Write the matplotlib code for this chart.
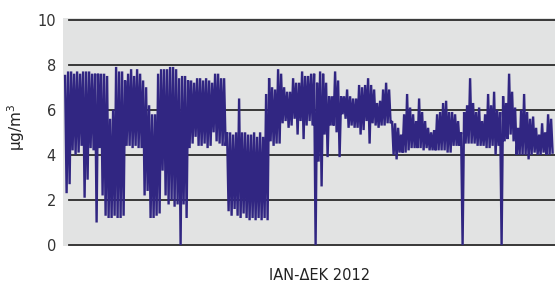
import numpy as np
import pandas as pd
import matplotlib
matplotlib.use("Agg")
import matplotlib.pyplot as plt

# upper / lower envelope of the hourly series, one pair per short time slice (Jan -> Dec 2012)
highs = [7.5, 7.7, 7.7, 7.6, 7.7, 7.6, 7.7, 7.7, 7.7, 7.6,
         7.6, 7.6, 7.6, 7.6, 7.5, 5.6, 6.0, 7.9, 7.7, 7.7,
         7.3, 7.6, 7.8, 7.5, 7.8, 7.6, 7.3, 7.0, 6.2, 5.8,
         5.8, 7.6, 7.8, 7.8, 7.8, 7.9, 7.9, 7.8, 7.4, 7.5,
         7.5, 7.3, 7.3, 7.2, 7.4, 7.4, 7.3, 7.4, 7.3, 7.2,
         7.6, 7.6, 7.4, 7.4, 5.0, 5.0, 4.9, 5.0, 6.5, 5.0,
         5.0, 4.9, 4.9, 5.0, 4.8, 5.0, 4.8, 6.7, 7.4, 7.0,
         6.9, 7.8, 7.6, 7.0, 6.8, 6.8, 7.4, 7.2, 7.2, 7.7,
         7.5, 7.5, 7.6, 7.6, 7.2, 7.7, 7.6, 7.2, 6.6, 6.6,
         7.7, 7.3, 6.6, 6.6, 6.9, 6.6, 6.5, 6.5, 7.1, 7.0,
         7.1, 7.4, 7.1, 6.9, 6.3, 6.4, 6.9, 7.2, 6.9, 5.5,
         5.4, 5.2, 4.9, 5.8, 6.7, 6.1, 5.8, 5.5, 6.5, 5.9,
         5.5, 5.2, 5.0, 5.1, 5.8, 5.9, 6.3, 6.4, 5.9, 5.9,
         5.8, 5.5, 5.0, 5.9, 6.2, 7.4, 6.3, 5.9, 6.1, 5.5,
         5.8, 6.7, 6.2, 6.8, 6.0, 5.9, 6.6, 6.3, 7.6, 6.8,
         6.1, 5.2, 6.0, 6.7, 5.9, 5.6, 5.7, 5.2, 4.9, 5.4,
         5.0, 5.8, 5.6]
lows = [2.3, 2.7, 4.2, 4.0, 4.1, 4.4, 2.1, 2.9, 4.3, 4.2,
        1.0, 4.3, 2.2, 1.3, 1.2, 1.2, 1.3, 1.2, 1.2, 1.3,
        4.4, 4.4, 4.3, 4.4, 4.3, 4.3, 2.2, 2.4, 1.2, 1.2,
        1.3, 1.4, 3.3, 2.2, 1.8, 2.0, 1.7, 1.8, 0.0, 1.8,
        1.2, 4.3, 4.5, 4.8, 4.4, 4.4, 4.5, 4.3, 4.4, 5.0,
        4.6, 4.5, 4.4, 4.4, 1.5, 1.3, 1.6, 1.3, 1.2, 1.4,
        1.2, 1.1, 1.2, 1.1, 1.2, 1.1, 1.2, 1.1, 4.6, 4.4,
        4.5, 4.5, 5.4, 5.5, 5.2, 5.3, 5.6, 4.9, 5.5, 4.7,
        5.3, 5.5, 5.3, 0.0, 3.7, 2.6, 4.9, 3.9, 5.3, 5.3,
        5.0, 3.9, 5.8, 5.6, 5.2, 5.3, 5.2, 5.2, 4.9, 5.1,
        5.5, 4.5, 5.4, 5.3, 5.2, 5.3, 5.3, 5.4, 5.4, 4.0,
        3.8, 4.1, 4.1, 4.1, 4.2, 4.3, 4.3, 4.3, 4.3, 4.2,
        4.3, 4.2, 4.2, 4.2, 4.2, 4.2, 4.2, 4.1, 4.1, 4.4,
        4.4, 4.4, 0.0, 4.5, 4.5, 4.5, 4.5, 4.4, 4.4, 4.4,
        4.3, 4.3, 4.4, 4.0, 4.4, 0.0, 4.6, 4.7, 4.9, 4.6,
        4.0, 4.0, 4.0, 4.0, 3.8, 4.0, 4.1, 4.0, 4.0, 4.1,
        4.0, 4.0, 4.1]

yticks = [0, 2, 4, 6, 8, 10]
xlabel = "ΙΑΝ-ΔΕΚ 2012"
ylabel = "μg/m$^3$"

# zigzag between the envelopes
vals = np.ravel(np.column_stack([highs, lows]))
times = pd.date_range("2012-01-01", "2012-12-31 23:00", periods=len(vals))

plt.rcParams['font.family'] = ['Liberation Sans Narrow', 'DejaVu Sans']

fig = plt.figure(figsize=(5.55, 2.83), dpi=100)
ax = fig.add_axes([63/555, 1 - 245.5/283, 492/555, 227.5/283])
ax.set_facecolor("#e2e3e3")

for y in yticks:
    ax.axhline(y, xmin=6/492, xmax=1, color="#2b2b2b", lw=1.3, zorder=1)

ax.plot(times, vals, color="#312682", lw=1.7, solid_joinstyle="miter", zorder=2)

step = times[1] - times[0]
ax.set_xlim(times[0] - 1.4 * step, times[-1] + 1.6 * step)
ax.set_ylim(-0.02, 10.07)
ax.set_yticks(yticks)
ax.set_xticks([])
ax.tick_params(axis="y", length=0, pad=5, labelsize=10.5, labelcolor="#333333")
for s in ax.spines.values():
    s.set_visible(False)

fig.text(16/555, 1 - 127/283, ylabel, rotation=90, ha="center", va="center",
         fontsize=11, color="#222222")
fig.text(320/555, 1 - 275/283, xlabel, ha="center", va="center",
         fontsize=10.5, color="#222222")

fig.savefig("out.png", dpi=100)
